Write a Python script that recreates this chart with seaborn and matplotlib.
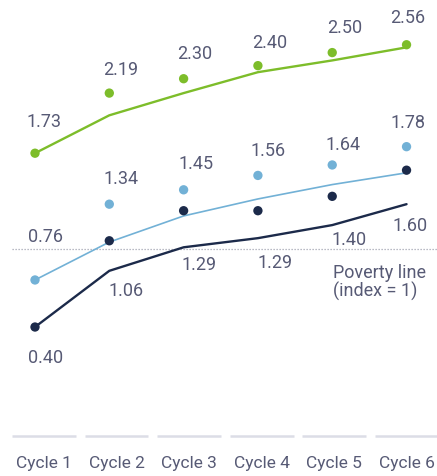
import matplotlib
matplotlib.use("Agg")
import matplotlib.pyplot as plt
import seaborn as sns
import pandas as pd

# ---- data -------------------------------------------------------------
cycles = ["Cycle 1", "Cycle 2", "Cycle 3", "Cycle 4", "Cycle 5", "Cycle 6"]

# labelled values (dots)
upper_points = [1.73, 2.19, 2.30, 2.40, 2.50, 2.56]
middle_points = [0.76, 1.34, 1.45, 1.56, 1.64, 1.78]
lower_points = [0.40, 1.06, 1.29, 1.29, 1.40, 1.60]

# trend lines
upper_trend = [1.73, 2.02, 2.19, 2.35, 2.44, 2.54]
middle_trend = [0.76, 1.05, 1.25, 1.38, 1.49, 1.58]
lower_trend = [0.40, 0.83, 1.01, 1.08, 1.18, 1.34]

poverty_line = 1.0

groups = ["upper", "middle", "lower"]

# ---- styling -----------------------------------------------------------
palette = {"upper": "#7dbd2a", "middle": "#72b1d6", "lower": "#1c2a4a"}
line_widths = {"upper": 1.7, "middle": 1.2, "lower": 1.7}
text_color = "#575a75"

# label offsets in pixels (dx from dot to text's left edge, dy to text centre)
label_dx = {
    "upper": [-8, -6, -6, -6, -5, -16],
    "middle": [-7, -6, -5, -7, -7, -16],
    "lower": [-7, -1, -2, 0, -1, -14],
}
label_dy = {
    "upper": [32, 24, 26, 24, 26, 28],
    "middle": [44, 26, 27, 25, 21, 25],
    "lower": [-30, -49, -53, -51, -43, -55],
}

sns.set_theme(style="white")
plt.rcParams["font.family"] = ["Roboto", "DejaVu Sans"]

points = {"upper": upper_points, "middle": middle_points, "lower": lower_points}
trends = {"upper": upper_trend, "middle": middle_trend, "lower": lower_trend}

rows = []
for g in groups:
    for i, c in enumerate(cycles):
        rows.append({"group": g, "pos": i, "cycle": c,
                     "point": points[g][i], "trend": trends[g][i]})
df = pd.DataFrame(rows)

fig = plt.figure(figsize=(4.37, 4.77), dpi=100)
ax = fig.add_axes([0, 0, 1, 1])

# poverty threshold
ax.hlines(poverty_line, -0.31, 5.41, colors="#a3a5b3", linewidth=0.9,
          linestyles=(0, (1, 1.4)), zorder=1)
ax.annotate("Poverty line\n(index = 1)", xy=(4, poverty_line),
            xytext=(1, -33), textcoords="offset pixels", ha="left",
            va="center", fontsize=13, color=text_color, linespacing=1.0)

for g in groups:
    sub = df[df["group"] == g]
    sns.lineplot(data=sub, x="pos", y="trend", color=palette[g],
                 linewidth=line_widths[g], ax=ax, legend=False, zorder=2)
    sns.scatterplot(data=sub, x="pos", y="point", color=palette[g], s=45,
                    edgecolor="none", ax=ax, legend=False, zorder=3)
    for i, v in enumerate(points[g]):
        ax.annotate(f"{v:.2f}", xy=(i, v),
                    xytext=(label_dx[g][i], label_dy[g][i]),
                    textcoords="offset pixels", ha="left", va="center",
                    fontsize=13, color=text_color)

ax.set_xlim(-0.471, 5.41)
ax.set_ylim(-0.74, 2.91)
ax.axis("off")

# category strip along the bottom
band = fig.add_axes([0, 0, 1, 57 / 477])
band.set_xlim(-0.607, 5.42)
band.set_ylim(0, 1)
band.axis("off")
for i, c in enumerate(cycles):
    band.hlines(0.70, i - 0.441, i + 0.441, colors="#dcdde6", linewidth=1.8)
    band.text(i, 0.245, c, ha="center", va="center", fontsize=12.5,
              color=text_color)

fig.savefig("out.png", dpi=100)
